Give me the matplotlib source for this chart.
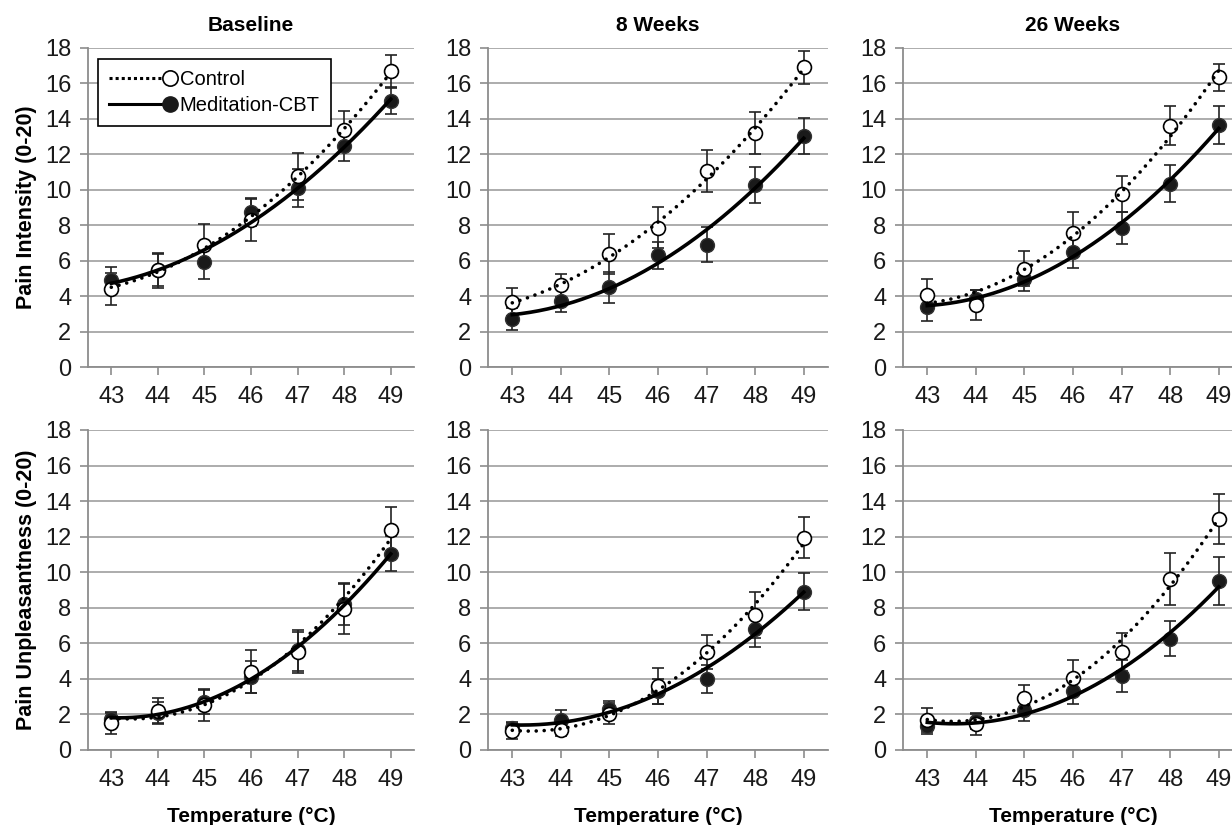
import numpy as np
import matplotlib
matplotlib.use("Agg")
import matplotlib.pyplot as plt
from matplotlib.lines import Line2D
from matplotlib.legend_handler import HandlerLine2D

plt.rcParams['font.family'] = ['Liberation Sans', 'DejaVu Sans']

temps = [43, 44, 45, 46, 47, 48, 49]
titles = ["Baseline", "8 Weeks", "26 Weeks"]
row_labels = ["Pain Intensity (0-20)", "Pain Unpleasantness (0-20)"]

# pain intensity
int_ctrl_base = [4.4, 5.45, 6.9, 8.3, 10.75, 13.35, 16.7]
int_ctrl_base_err = [0.9, 1.0, 1.15, 1.2, 1.35, 1.1, 0.9]
int_med_base = [4.9, 5.45, 5.9, 8.75, 10.1, 12.45, 15.0]
int_med_base_err = [0.75, 0.9, 0.95, 0.8, 1.05, 0.8, 0.75]

int_ctrl_8 = [3.65, 4.6, 6.35, 7.85, 11.05, 13.2, 16.9]
int_ctrl_8_err = [0.8, 0.65, 1.13, 1.15, 1.2, 1.2, 0.92]
int_med_8 = [2.7, 3.75, 4.5, 6.3, 6.9, 10.25, 13.05]
int_med_8_err = [0.63, 0.66, 0.88, 0.75, 1.0, 1.02, 1.02]

int_ctrl_26 = [4.05, 3.5, 5.55, 7.55, 9.75, 13.6, 16.35]
int_ctrl_26_err = [0.9, 0.85, 0.98, 1.22, 1.0, 1.1, 0.75]
int_med_26 = [3.4, 3.85, 4.95, 6.5, 7.85, 10.35, 13.65]
int_med_26_err = [0.8, 0.5, 0.65, 0.9, 0.9, 1.05, 1.05]

# pain unpleasantness
unp_ctrl_base = [1.5, 2.2, 2.55, 4.4, 5.5, 7.95, 12.35]
unp_ctrl_base_err = [0.6, 0.72, 0.9, 1.2, 1.15, 1.45, 1.3]
unp_med_base = [1.75, 2.1, 2.7, 4.1, 5.6, 8.2, 11.05]
unp_med_base_err = [0.4, 0.6, 0.7, 0.9, 1.15, 1.15, 1.0]

unp_ctrl_8 = [1.05, 1.15, 2.05, 3.6, 5.5, 7.6, 11.95]
unp_ctrl_8_err = [0.45, 0.35, 0.6, 1.0, 0.95, 1.3, 1.13]
unp_med_8 = [1.25, 1.7, 2.3, 3.3, 4.0, 6.8, 8.9]
unp_med_8_err = [0.35, 0.57, 0.43, 0.7, 0.8, 0.98, 1.03]

unp_ctrl_26 = [1.7, 1.45, 2.95, 4.05, 5.5, 9.6, 13.0]
unp_ctrl_26_err = [0.68, 0.6, 0.73, 1.0, 1.07, 1.47, 1.41]
unp_med_26 = [1.35, 1.65, 2.25, 3.3, 4.15, 6.25, 9.5]
unp_med_26_err = [0.45, 0.45, 0.6, 0.74, 0.9, 0.98, 1.35]

panels = [
    [(int_ctrl_base, int_ctrl_base_err, int_med_base, int_med_base_err),
     (int_ctrl_8, int_ctrl_8_err, int_med_8, int_med_8_err),
     (int_ctrl_26, int_ctrl_26_err, int_med_26, int_med_26_err)],
    [(unp_ctrl_base, unp_ctrl_base_err, unp_med_base, unp_med_base_err),
     (unp_ctrl_8, unp_ctrl_8_err, unp_med_8, unp_med_8_err),
     (unp_ctrl_26, unp_ctrl_26_err, unp_med_26, unp_med_26_err)],
]


class EndMarkerHandler(HandlerLine2D):
    # legend line with the marker sitting at its right end
    def create_artists(self, legend, orig, xd, yd, w, h, fs, trans):
        y = h / 2 - yd
        ls = '-' if orig.get_linestyle() == '-' else (0, (1.0, 1.0))
        ln = Line2D([-xd, w - xd - 4], [y, y], color='black', linestyle=ls,
                    linewidth=2.2)
        mk = Line2D([w - xd], [y], marker='o', linestyle='none',
                    markersize=orig.get_markersize(),
                    markerfacecolor=orig.get_markerfacecolor(),
                    markeredgecolor=orig.get_markeredgecolor(),
                    markeredgewidth=orig.get_markeredgewidth())
        ln.set_transform(trans)
        mk.set_transform(trans)
        return [ln, mk]


fig = plt.figure(figsize=(12.32, 8.25), dpi=100)

lefts = [88 / 1232, 488 / 1232, 903 / 1232]
widths = [326 / 1232, 340 / 1232, 340 / 1232]
bottoms = [1 - 367 / 825, 1 - 750 / 825]
heights = [319 / 825, 320 / 825]

grid_col = '#a6a6a6'
dotted = (0, (0.01, 2.2))
x = np.array(temps)
xs = np.linspace(43, 49, 200)

for r in range(2):
    for c in range(3):
        ax = fig.add_axes([lefts[c], bottoms[r], widths[c], heights[r]])
        ctrl, ctrl_err, med, med_err = panels[r][c]

        ax.errorbar(temps, med, yerr=med_err, fmt='none', ecolor='#222222',
                    elinewidth=1.2, capsize=4, capthick=1.2, zorder=3)
        ax.errorbar(temps, ctrl, yerr=ctrl_err, fmt='none', ecolor='#222222',
                    elinewidth=1.2, capsize=4, capthick=1.2, zorder=3)
        ax.plot(temps, med, 'o', ms=10, mfc='#1a1a1a', mec='#333333', mew=1, zorder=4)
        ax.plot(temps, ctrl, 'o', ms=10, mfc='white', mec='black', mew=1.2, zorder=5)

        # quadratic trend lines
        pc = np.polyfit(x, ctrl, 2)
        pm = np.polyfit(x, med, 2)
        ax.plot(xs, np.polyval(pc, xs), color='black', lw=2.6, ls=dotted,
                dash_capstyle='round', zorder=6)
        ax.plot(xs, np.polyval(pm, xs), color='black', lw=2.6, zorder=6)

        ax.set_xlim(42.5, 49.5)
        ax.set_ylim(0, 18)
        ax.set_xticks(temps)
        ax.set_yticks(range(0, 19, 2))
        ax.yaxis.grid(True, color=grid_col, lw=1.3)
        ax.set_axisbelow(True)
        for s in ['top', 'right']:
            ax.spines[s].set_visible(False)
        for s in ['left', 'bottom']:
            ax.spines[s].set_color('#8c8c8c')
            ax.spines[s].set_linewidth(1.3)
        ax.tick_params(axis='both', colors='#8c8c8c', labelcolor='#1a1a1a',
                       labelsize=17, length=6, width=1.2)
        ax.tick_params(axis='x', pad=8)
        ax.tick_params(axis='y', pad=6)

        if r == 0:
            ax.set_title(titles[c], fontsize=15, fontweight='bold', pad=12)
        else:
            ax.set_xlabel("Temperature (\u00b0C)", fontsize=15, fontweight='bold',
                          labelpad=11)
        if c == 0:
            ax.set_ylabel(row_labels[r], fontsize=15.5, fontweight='bold', labelpad=6)

        if r == 0 and c == 0:
            h_ctrl = Line2D([], [], color='black', ls=':', marker='o',
                            ms=11, mfc='white', mec='black', mew=1.2)
            h_med = Line2D([], [], color='black', ls='-', marker='o',
                           ms=11, mfc='#1a1a1a', mec='#1a1a1a')
            leg = ax.legend([h_ctrl, h_med], ["Control", "Meditation-CBT"],
                            loc='upper left', bbox_to_anchor=(0.031, 0.966),
                            borderaxespad=0, fontsize=14.5, frameon=True,
                            fancybox=False, edgecolor='black', framealpha=1,
                            handlelength=3.0, handletextpad=0.5, borderpad=0.55,
                            labelspacing=0.35,
                            handler_map={Line2D: EndMarkerHandler()})
            leg.get_frame().set_linewidth(1.2)
            leg.set_zorder(10)

fig.savefig("out.png", dpi=100)
